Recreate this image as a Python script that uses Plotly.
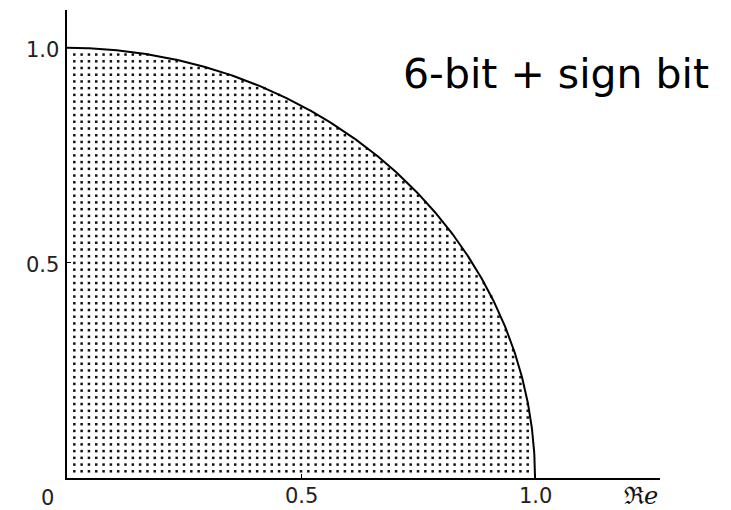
import numpy as np
import plotly.graph_objects as go

# Quantizer: 6 magnitude bits plus a sign bit -> 64 levels per unit
magnitude_bits = 6
levels = 2 ** magnitude_bits
grid_steps = list(range(1, levels))          # interior grid indices along each axis

tick_values = [0.5, 1.0]
x_tick_labels = ["0", "0.5", "1.0"]
y_tick_labels = ["0.5", "1.0"]
title_text = "6-bit + sign bit"
axis_name = "ℜ<i>e</i>"

# Quantized coefficient pairs that stay inside the unit circle
gx, gy = np.meshgrid(grid_steps, grid_steps)
inside = gx ** 2 + gy ** 2 <= levels ** 2
px = gx[inside] / levels
py = gy[inside] / levels

# Unit circle boundary (first quadrant)
theta = np.linspace(0, np.pi / 2, 400)

fig = go.Figure()
fig.add_trace(go.Scatter(
    x=px, y=py, mode="markers",
    marker=dict(symbol="square", size=2.5, color="#111", line=dict(width=0)),
    hoverinfo="skip",
))
fig.add_trace(go.Scatter(
    x=np.cos(theta), y=np.sin(theta), mode="lines",
    line=dict(color="black", width=2),
    hoverinfo="skip",
))

label_font = dict(family="DejaVu Sans", size=21, color="#222")

annotations = []
# x tick labels
annotations.append(dict(x=0, y=0, xref="x", yref="paper", text=x_tick_labels[0],
                        showarrow=False, xshift=-20, yshift=-20,
                        yanchor="middle", font=label_font))
for v, t in zip(tick_values, x_tick_labels[1:]):
    annotations.append(dict(x=v, y=0, xref="x", yref="paper", text=t,
                            showarrow=False, yshift=-18, yanchor="middle",
                            font=label_font))
# y tick labels
for v, t in zip(tick_values, y_tick_labels):
    annotations.append(dict(x=0, y=v, xref="paper", yref="y", text=t,
                            showarrow=False, xanchor="right", xshift=-6,
                            yanchor="middle", yshift=-2, font=label_font))
# axis name
annotations.append(dict(x=1.226, y=0, xref="x", yref="paper", text=axis_name,
                        showarrow=False, yshift=-18, yanchor="middle",
                        font=dict(family="DejaVu Serif", size=24, color="#111")))
# heading
annotations.append(dict(x=1.045, y=1 - (74 - 10) / 468, xref="x", yref="paper",
                        text=title_text, showarrow=False, xanchor="center",
                        yanchor="middle",
                        font=dict(family="DejaVu Sans", size=41, color="black")))

fig.update_layout(
    width=731, height=510,
    margin=dict(l=67, r=71, t=10, b=32),
    plot_bgcolor="white", paper_bgcolor="white",
    showlegend=False,
    annotations=annotations,
)
fig.update_xaxes(range=[0, 1.267], showgrid=False, zeroline=False,
                 showline=True, linecolor="black", linewidth=2,
                 tickvals=tick_values, ticks="inside", ticklen=4,
                 tickcolor="black", showticklabels=False)
fig.update_yaxes(range=[0, 1.088], showgrid=False, zeroline=False,
                 showline=True, linecolor="black", linewidth=2,
                 tickvals=tick_values, ticks="inside", ticklen=4,
                 tickcolor="black", showticklabels=False)

fig.write_html("out.html")
